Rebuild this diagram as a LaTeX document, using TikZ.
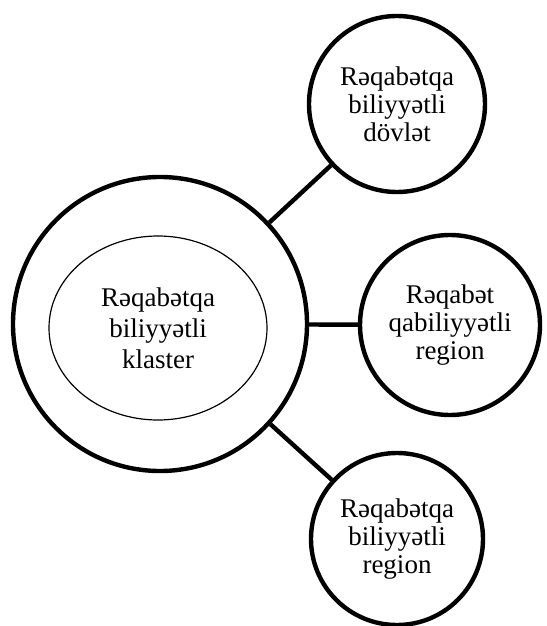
\documentclass[tikz,border=0pt]{standalone}
\usepackage{fontspec}
\setmainfont{Liberation Serif}
\usetikzlibrary{shapes.geometric}
\begin{document}
\begin{tikzpicture} [x=0.5pt,y=-0.5pt,
    ring/.style={circle,draw,line width=2.2pt,inner sep=0pt},
    topic/.style={circle,draw,line width=2.2pt,inner sep=0pt,align=center,
                  font=\fontsize{13.5}{14}\selectfont},
    link/.style={line width=2.2pt}]
    \useasboundingbox (0,0) rectangle (546,626);
    \path node (outer) at (160,324) [ring,minimum size=147pt] {}
          node (klaster) at (158,328) [ellipse,draw,line width=0.6pt,minimum width=109pt,
                minimum height=92pt,align=center,font=\fontsize{13.5}{15.5}\selectfont]
                {Rəqabətqa\\biliyyətli\\klaster}
          node (dovlet) at (397,104) [topic,minimum size=88pt] {Rəqabətqa\\biliyyətli\\dövlət}
          node (qregion) at (450,325) [topic,minimum size=90pt] {Rəqabət\\qabiliyyətli\\region}
          node (region) at (397,539) [topic,minimum size=86pt] {Rəqabətqa\\biliyyətli\\region};
    \draw [link] (outer) -- (dovlet);
    \draw [link] (outer) -- (qregion);
    \draw [link] (outer) -- (region);
\end{tikzpicture}
\end{document}
